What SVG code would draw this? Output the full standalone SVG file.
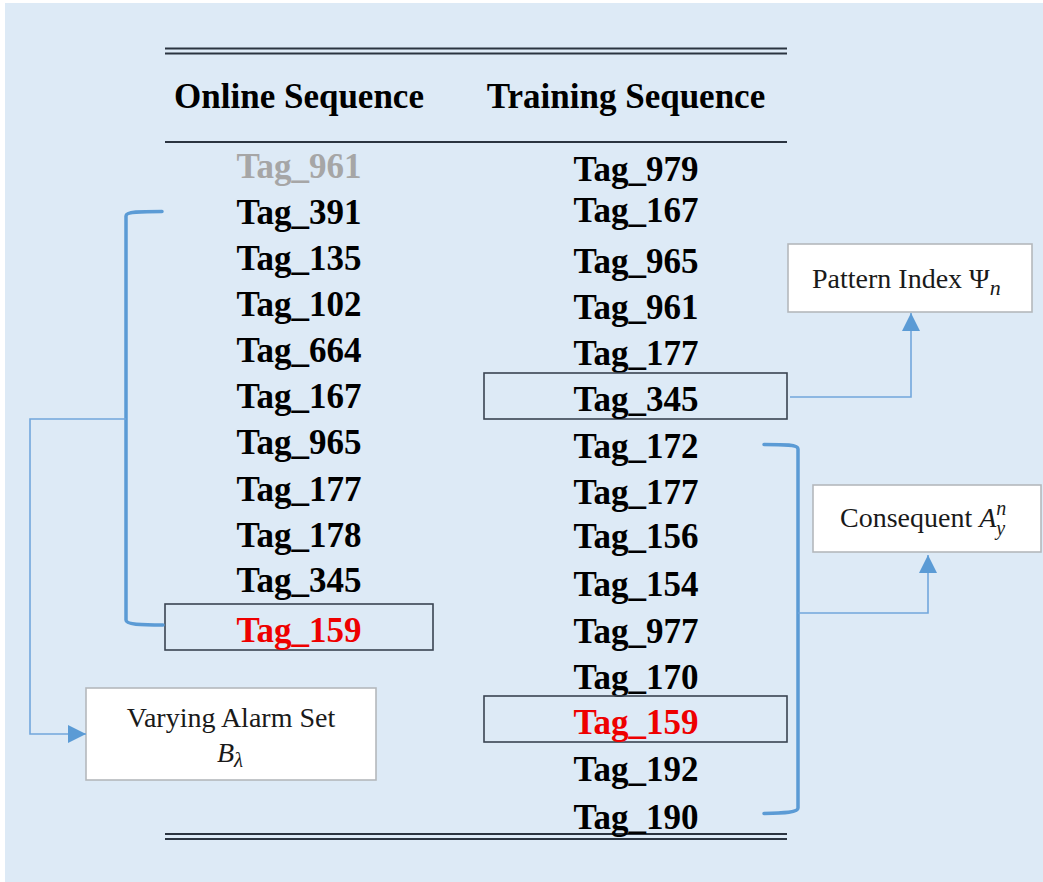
<svg xmlns="http://www.w3.org/2000/svg" width="1043" height="882" viewBox="0 0 1043 882">
  <defs>
    <style>
      text { font-family: 'Liberation Serif', 'DejaVu Serif', serif; }
      .tag { font-weight: bold; font-size: 35px; fill: #000; text-anchor: middle; }
      .head { font-weight: bold; font-size: 35px; fill: #000; text-anchor: middle; }
      .label { font-size: 28px; fill: #1a1a1a; }
      .math { font-style: italic; }
      .rule { stroke: #2b3440; stroke-width: 2; }
      .hit { fill: none; stroke: #3a4452; stroke-width: 1.6; }
      .note { fill: #ffffff; stroke: #b4b8bc; stroke-width: 1.6; }
      .bracket { fill: none; stroke: #5b9bd5; stroke-width: 3.5; stroke-linecap: round; stroke-linejoin: round; }
      .link { fill: none; stroke: #72a7dc; stroke-width: 1.6; }
    </style>
    <marker id="tri" markerWidth="18" markerHeight="18" viewBox="0 0 18 18" refX="18" refY="9" orient="auto" markerUnits="userSpaceOnUse">
      <path d="M0,0 L18,9 L0,18 Z" fill="#5b9bd5"/>
    </marker>
  </defs>

  <!-- backdrop -->
  <rect x="0" y="0" width="1043" height="882" fill="#ffffff"/>
  <rect x="5" y="3" width="1038" height="879" fill="#ddeaf6"/>

  <!-- table rules -->
  <g id="rules">
    <line class="rule" x1="165" y1="48.5" x2="787" y2="48.5"/>
    <line class="rule" x1="165" y1="53.5" x2="787" y2="53.5"/>
    <line class="rule" x1="165" y1="142" x2="787" y2="142"/>
    <line class="rule" x1="165" y1="834" x2="787" y2="834"/>
    <line class="rule" x1="165" y1="839" x2="787" y2="839"/>
  </g>

  <!-- column headers -->
  <g id="headers">
    <text class="head" x="299" y="108">Online Sequence</text>
    <text class="head" x="626" y="108">Training Sequence</text>
  </g>

  <!-- online sequence column -->
  <g id="online-sequence">
    <text class="tag" x="299" y="178" style="fill:#a6a6a6">Tag_961</text>
    <text class="tag" x="299" y="224">Tag_391</text>
    <text class="tag" x="299" y="270">Tag_135</text>
    <text class="tag" x="299" y="316">Tag_102</text>
    <text class="tag" x="299" y="362">Tag_664</text>
    <text class="tag" x="299" y="408">Tag_167</text>
    <text class="tag" x="299" y="454">Tag_965</text>
    <text class="tag" x="299" y="501">Tag_177</text>
    <text class="tag" x="299" y="547">Tag_178</text>
    <text class="tag" x="299" y="592">Tag_345</text>
  </g>
  <g id="online-current">
    <rect class="hit" x="165" y="604" width="268" height="46"/>
    <text class="tag" x="299" y="642" style="fill:#ee0000">Tag_159</text>
  </g>

  <!-- training sequence column -->
  <g id="training-sequence">
    <text class="tag" x="636" y="181">Tag_979</text>
    <text class="tag" x="636" y="222">Tag_167</text>
    <text class="tag" x="636" y="273">Tag_965</text>
    <text class="tag" x="636" y="319">Tag_961</text>
    <text class="tag" x="636" y="365">Tag_177</text>
    <text class="tag" x="636" y="458">Tag_172</text>
    <text class="tag" x="636" y="504">Tag_177</text>
    <text class="tag" x="636" y="548">Tag_156</text>
    <text class="tag" x="636" y="596">Tag_154</text>
    <text class="tag" x="636" y="643">Tag_977</text>
    <text class="tag" x="636" y="689">Tag_170</text>
    <text class="tag" x="636" y="781">Tag_192</text>
    <text class="tag" x="636" y="829">Tag_190</text>
  </g>
  <g id="training-pattern">
    <rect class="hit" x="484" y="373" width="303" height="46"/>
    <text class="tag" x="636" y="411">Tag_345</text>
  </g>
  <g id="training-match">
    <rect class="hit" x="484" y="696" width="303" height="46"/>
    <text class="tag" x="636" y="734" style="fill:#ee0000">Tag_159</text>
  </g>

  <!-- annotation boxes -->
  <g id="pattern-index">
    <rect class="note" x="788" y="244" width="244" height="68"/>
    <text class="label" x="812" y="288">Pattern Index Ψ<tspan class="math" font-size="22" dy="7">n</tspan></text>
  </g>
  <g id="consequent">
    <rect class="note" x="813" y="485" width="228" height="67"/>
    <text class="label" x="840" y="527">Consequent <tspan class="math">A</tspan><tspan class="math" font-size="20" dy="-12">n</tspan><tspan class="math" font-size="20" dx="-10" dy="20">y</tspan></text>
  </g>
  <g id="varying-alarm-set">
    <rect class="note" x="86" y="688" width="290" height="92"/>
    <text class="label" x="231" y="727" text-anchor="middle">Varying Alarm Set</text>
    <text class="label" x="217" y="762"><tspan class="math">B</tspan><tspan class="math" font-size="21" dy="5">λ</tspan></text>
  </g>

  <!-- brackets and connectors -->
  <g id="connectors">
    <path class="bracket" d="M162,211.5 C140,211.5 126,211.5 126,216 L126,620 C126,624.5 140,625 163,625"/>
    <path class="bracket" d="M764,444.5 C785,444.5 798,444.5 798,449 L798,808 C798,812.5 785,813 764,813.5"/>
    <path class="link" d="M126,419 L30,419 L30,734 L86,734" marker-end="url(#tri)"/>
    <path class="link" d="M790,397 L911,397 L911,313" marker-end="url(#tri)"/>
    <path class="link" d="M798,613 L928,613 L928,555" marker-end="url(#tri)"/>
  </g>
</svg>
